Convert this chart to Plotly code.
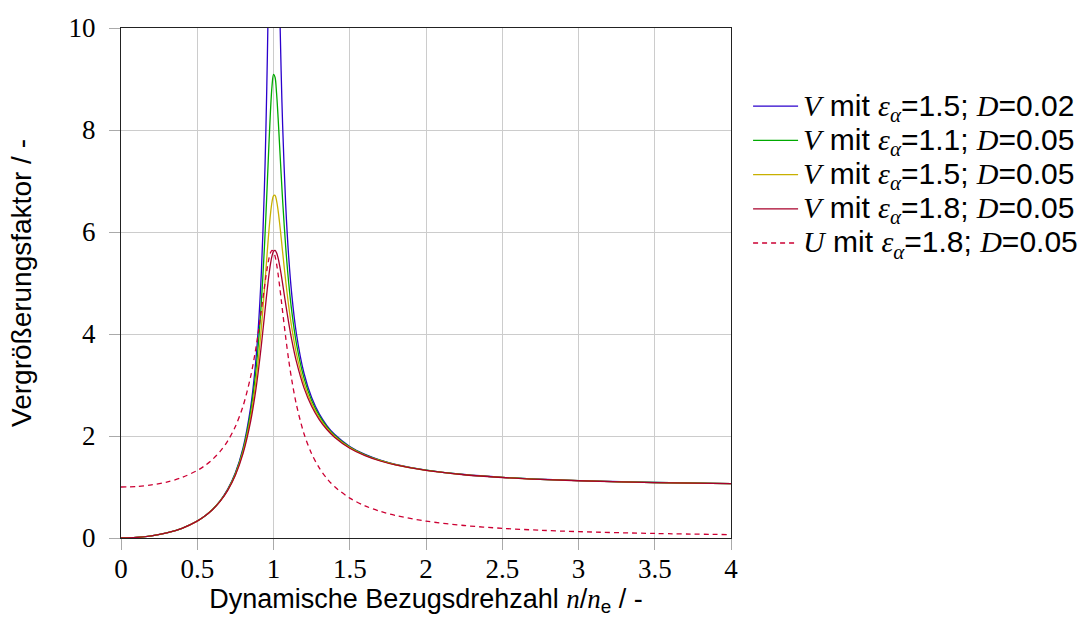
import plotly.graph_objects as go

# Dynamische Bezugsdrehzahl n/ne
ETA = [0, 0.1, 0.2, 0.3, 0.4, 0.5, 0.55, 0.6, 0.65, 0.7, 0.75, 0.8, 0.85, 0.88, 0.9,
       0.92, 0.94, 0.95, 0.96, 0.97, 0.98, 0.99, 1.0, 1.01, 1.02, 1.03, 1.04, 1.05,
       1.06, 1.08, 1.1, 1.12, 1.15, 1.2, 1.25, 1.3, 1.35, 1.4, 1.5, 1.6, 1.7, 1.8,
       2.0, 2.25, 2.5, 2.75, 3.0, 3.5, 4.0]

V_15_002 = [0, 0.0101, 0.0417, 0.0989, 0.1904, 0.3331, 0.4332, 0.5616, 0.7299, 0.9575,
            1.2789, 1.7622, 2.5606, 3.3421, 4.1008, 5.1857, 6.8316, 7.991, 9.473, 11.343,
            13.548, 15.646, 16.667, 15.979, 14.188, 12.228, 10.529, 9.164, 8.083, 6.532,
            5.497, 4.767, 4.010, 3.230, 2.7534, 2.4338, 2.2051, 2.0339, 1.7953, 1.6380,
            1.5269, 1.4447, 1.3323, 1.2455, 1.1900, 1.1520, 1.1247, 1.0887, 1.0665]

V_11_005 = [0, 0.0101, 0.0417, 0.0988, 0.1903, 0.3324, 0.4321, 0.5595, 0.7261, 0.9500,
            1.2634, 1.7269, 2.4672, 3.1544, 3.7807, 4.6015, 5.6751, 6.3147, 7.0073, 7.7136,
            8.3629, 8.8536, 9.0909, 9.0352, 8.7245, 8.2477, 7.6971, 7.1396, 6.6125, 5.7048,
            4.9924, 4.4379, 3.8175, 3.1347, 2.6983, 2.3983, 2.1805, 2.0159, 1.7845, 1.6307,
            1.5217, 1.4408, 1.3298, 1.2438, 1.1888, 1.1512, 1.1240, 1.0882, 1.0662]

V_15_005 = [0, 0.0101, 0.0417, 0.0987, 0.1901, 0.3317, 0.4307, 0.5571, 0.7215, 0.9413,
            1.2457, 1.6877, 2.3686, 2.9677, 3.4830, 4.1113, 4.8520, 5.2508, 5.6499, 6.0259,
            6.3481, 6.5849, 6.7115, 6.7191, 6.6162, 6.4254, 6.1760, 5.8945, 5.6026, 5.0389,
            4.5422, 4.1229, 3.6213, 3.0320, 2.6370, 2.3581, 2.1524, 1.9951, 1.7719, 1.6222,
            1.5155, 1.4362, 1.3268, 1.2419, 1.1875, 1.1501, 1.1232, 1.0877, 1.0658]

V_18_005 = [0, 0.0101, 0.0416, 0.0987, 0.1898, 0.3310, 0.4295, 0.5548, 0.7173, 0.9333,
            1.2297, 1.6532, 2.2859, 2.8196, 3.2593, 3.7698, 4.3352, 4.6238, 4.9021, 5.1560,
            5.3693, 5.5270, 5.6183, 5.6394, 5.5939, 5.4918, 5.3466, 5.1724, 4.9816, 4.5876,
            4.2144, 3.8812, 3.4622, 2.9442, 2.5831, 2.3222, 2.1269, 1.9762, 1.7603, 1.6143,
            1.5099, 1.4319, 1.3241, 1.2401, 1.1862, 1.1492, 1.1225, 1.0872, 1.0655]

U_18_005 = [1.0, 1.0099, 1.0410, 1.0970, 1.1862, 1.3240, 1.4198, 1.5412, 1.6979, 1.9048,
            2.1862, 2.5830, 3.1638, 3.6410, 4.0238, 4.4539, 4.9063, 5.1235, 5.3191, 5.4797,
            5.5907, 5.6392, 5.6183, 5.5283, 5.3766, 5.1765, 4.9432, 4.6915, 4.4336, 3.9331,
            3.4830, 3.0941, 2.6179, 2.0446, 1.6532, 1.3741, 1.1670, 1.0083, 0.7824, 0.6306,
            0.5224, 0.4419, 0.3310, 0.2450, 0.1898, 0.1520, 0.1247, 0.08875, 0.06659]

X_TICKS = [0, 0.5, 1, 1.5, 2, 2.5, 3, 3.5, 4]
Y_TICKS = [0, 2, 4, 6, 8, 10]

SERIF = "Liberation Serif"
SANS = "Liberation Sans"


def it(s):
    return f"<span style='font-family:{SERIF}'><i>{s}</i></span>"


def label(var, eps, d):
    return ("<span style='font-size:30px'>"
            f"{it(var)} mit {it('ε')}<sub>{it('α')}</sub>={eps}; {it('D')}={d}"
            "</span>")


series = [
    (V_15_002, label("V", "1.5", "0.02"), "#2a00cc", "solid"),
    (V_11_005, label("V", "1.1", "0.05"), "#00aa00", "solid"),
    (V_15_005, label("V", "1.5", "0.05"), "#c8b000", "solid"),
    (V_18_005, label("V", "1.8", "0.05"), "#a8002a", "solid"),
    (U_18_005, label("U", "1.8", "0.05"), "#cc0033", "5px,4px"),
]

fig = go.Figure()
for ys, name, color, dash in series:
    fig.add_trace(go.Scatter(
        x=ETA, y=ys, mode="lines", name=name,
        line=dict(color=color, width=1.3, dash=dash, shape="spline", smoothing=0.9),
    ))

axis_common = dict(
    showgrid=True, gridcolor="#cccccc", gridwidth=1,
    showline=True, linecolor="#222222", linewidth=1.3, mirror=True,
    ticks="outside", ticklen=11, tickcolor="#aaaaaa", tickwidth=1,
    tickfont=dict(family=SERIF, size=27, color="black"),
    zeroline=False, automargin=False,
)

fig.update_layout(
    width=1087, height=619,
    margin=dict(l=121, r=356, t=28, b=81, autoexpand=False),
    paper_bgcolor="white", plot_bgcolor="white",
    font=dict(family=SANS, color="black"),
    xaxis=dict(
        range=[0, 4], tickvals=X_TICKS, ticktext=[str(t) for t in X_TICKS],
        title=dict(text=f"Dynamische Bezugsdrehzahl {it('n')}/{it('n')}<sub>e</sub> / -",
                   font=dict(family=SANS, size=27), standoff=0),
        ticklabelstandoff=-5,
        **axis_common,
    ),
    yaxis=dict(
        range=[0, 10], tickvals=Y_TICKS, ticktext=[str(t) for t in Y_TICKS],
        title=dict(text="Vergrößerungsfaktor / -", font=dict(family=SANS, size=28),
                   standoff=28),
        ticklabelstandoff=8,
        **axis_common,
    ),
    legend=dict(
        x=1.028, y=0.89, xanchor="left", yanchor="top",
        font=dict(family=SANS, size=24, color="black"),
        bgcolor="rgba(0,0,0,0)", borderwidth=0, itemwidth=45,
        tracegroupgap=0,
    ),
    showlegend=True,
)

fig.write_html("out.html")
